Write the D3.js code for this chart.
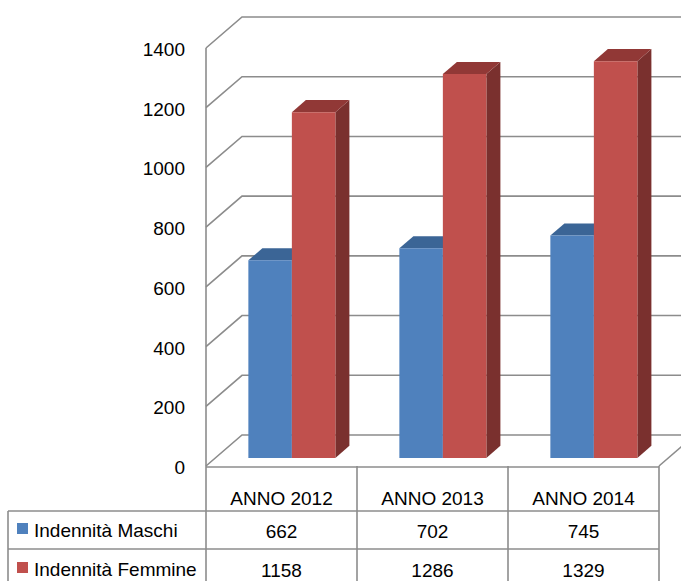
<!DOCTYPE html>
<html><head><meta charset="utf-8">
<script src="https://cdn.jsdelivr.net/npm/d3@7"></script>
<style>html,body{margin:0;padding:0;background:#fff;}svg{display:block;}</style>
</head><body>
<script>
const categories = ["ANNO 2012", "ANNO 2013", "ANNO 2014"];
const seriesNames = ["Indennità Maschi", "Indennità Femmine"];
const maschi = [662, 702, 745];
const femmine = [1158, 1286, 1329];
const yTicks = [0, 200, 400, 600, 800, 1000, 1200, 1400];

const seriesValues = [maschi, femmine];
const colors = [
  {front: "#4F81BD", top: "#3B6596", side: "#2F5280"},
  {front: "#C0504D", top: "#913836", side: "#7A302E"}
];

const W = 681, H = 581;
const svg = d3.select("body").append("svg").attr("width", W).attr("height", H);
const FONT = "'Liberation Sans', Arial, sans-serif";

const y = d3.scaleLinear().domain([0, 1400]).range([466, 48]);
const x0 = d3.scaleBand().domain(categories).range([206, 659]);
const x1 = d3.scaleBand().domain(seriesNames).range([33, 120]);
const DX = 36, DY = 31;
const P = (x, v, d) => [x + d * DX, y(v) - d * DY];
const grid = "#8c8c8c";

// gridlines (left wall diagonals + back wall horizontals)
const g = svg.append("g");
yTicks.forEach(v => {
  const a = P(206, v, 0), b = P(206, v, 1), c = P(740, v, 1);
  g.append("path").attr("d", `M${a}L${b}L${c}`).attr("fill", "none")
    .attr("stroke", grid).attr("stroke-width", 1.6);
});
// floor right edge
{
  const a = P(659, 0, 0), b = P(659, 0, 1);
  g.append("path").attr("d", `M${a}L${b}`).attr("stroke", grid).attr("stroke-width", 1.6);
}

// bars
const d0 = 0.26, d1 = 0.65;
categories.forEach((c, i) => {
  seriesNames.forEach((s, j) => {
    const v = seriesValues[j][i];
    const a = x0(c) + x1(s), b = a + x1.bandwidth();
    const col = colors[j];
    const poly = pts => pts.map(p => p.join(",")).join(" ");
    svg.append("polygon").attr("points", poly([P(b,0,d0), P(b,0,d1), P(b,v,d1), P(b,v,d0)])).attr("fill", col.side);
    svg.append("polygon").attr("points", poly([P(a,v,d0), P(b,v,d0), P(b,v,d1), P(a,v,d1)])).attr("fill", col.top);
    svg.append("polygon").attr("points", poly([P(a,0,d0), P(b,0,d0), P(b,v,d0), P(a,v,d0)])).attr("fill", col.front);
  });
});

// front axis + floor front edge
svg.append("line").attr("x1", 206).attr("x2", 206).attr("y1", y(1400)).attr("y2", H)
  .attr("stroke", grid).attr("stroke-width", 1.6);
svg.append("line").attr("x1", 206).attr("x2", 659).attr("y1", y(0) + 1).attr("y2", y(0) + 1)
  .attr("stroke", grid).attr("stroke-width", 1.6);

// y tick labels
svg.append("g").selectAll("text").data(yTicks).join("text")
  .attr("x", 185).attr("y", d => y(d) + 8)
  .attr("text-anchor", "end").attr("font-family", FONT).attr("font-size", 19)
  .attr("fill", "#000").text(d => d);

// data table
const rowY = [511, 549];
rowY.forEach(ry => {
  svg.append("line").attr("x1", 8).attr("x2", 659).attr("y1", ry).attr("y2", ry)
    .attr("stroke", grid).attr("stroke-width", 1.6);
});
svg.append("line").attr("x1", 8).attr("x2", 8).attr("y1", 511).attr("y2", H)
  .attr("stroke", grid).attr("stroke-width", 1.6);
categories.forEach(c => {
  const xr = x0(c) + x0.bandwidth();
  svg.append("line").attr("x1", xr).attr("x2", xr).attr("y1", y(0)).attr("y2", H)
    .attr("stroke", grid).attr("stroke-width", 1.6);
  svg.append("text").attr("x", x0(c) + x0.bandwidth() / 2).attr("y", 505)
    .attr("text-anchor", "middle").attr("font-family", FONT).attr("font-size", 19).text(c);
});
const rowBase = [538, 577];
seriesNames.forEach((s, j) => {
  svg.append("rect").attr("x", 17).attr("y", rowBase[j] - 15).attr("width", 11).attr("height", 11)
    .attr("fill", colors[j].front);
  svg.append("text").attr("x", 34).attr("y", rowBase[j] - 1)
    .attr("font-family", FONT).attr("font-size", 19).text(s);
  categories.forEach((c, i) => {
    svg.append("text").attr("x", x0(c) + x0.bandwidth() / 2).attr("y", rowBase[j])
      .attr("text-anchor", "middle").attr("font-family", FONT).attr("font-size", 19)
      .text(seriesValues[j][i]);
  });
});
</script>
</body></html>
